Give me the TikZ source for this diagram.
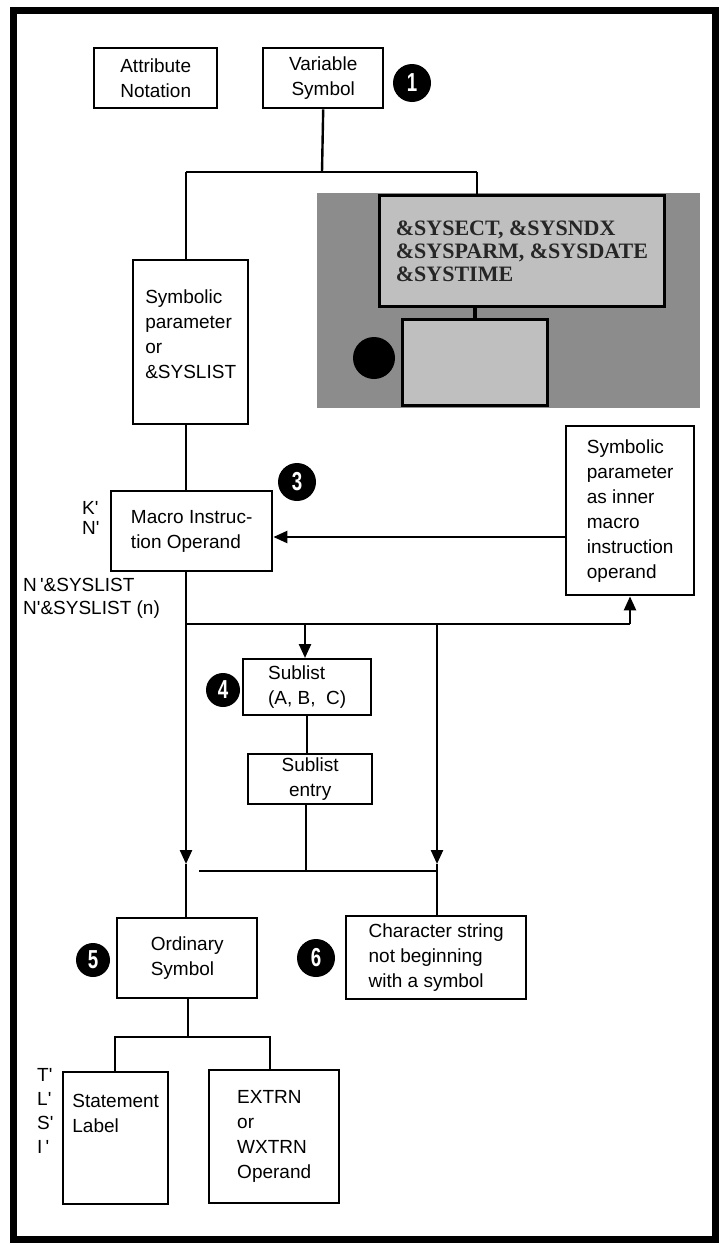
\documentclass[tikz,border=0pt]{standalone}
\usepackage{fontspec}
\setmainfont{Liberation Sans}
\newfontfamily\serifbold{Liberation Serif}
\usetikzlibrary{arrows.meta}
\newcommand{\myq}{\textquotesingle}
\newcommand{\bodyfont}{\fontsize{19}{25}\selectfont}
\newcommand{\numfont}{\fontsize{26}{26}\selectfont\bfseries}
\newcommand{\cn}[1]{\scalebox{0.72}[1]{#1}}
\begin{document}
\begin{tikzpicture}[x=1pt,y=-1pt,
  box/.style={draw, line width=2.4pt, anchor=north west, inner sep=0pt, align=center, font=\bodyfont},
  lbox/.style={box, align=left},
  ln/.style={line width=2.4pt},
  arr/.style={ln, -{Triangle[length=14pt,width=12pt]}},
  num/.style={circle, fill=black, text=white, minimum size=38pt, inner sep=0pt, font=\numfont},
  lab/.style={anchor=west, align=left, inner sep=0pt},
  gbox/.style={draw=black, line width=3pt, fill=black!25, anchor=north west, inner sep=0pt}]
\useasboundingbox (0,0) rectangle (727,1245);
\fill[white] (0,0) rectangle (727,1245);
\draw[line width=7pt] (13,10) rectangle (715,1239);

% top
\node[box, minimum width=123pt, minimum height=60pt] (attr) at (93,47) {Attribute\\Notation};
\node[box, minimum width=120pt, minimum height=60pt] (var) at (262,47) {Variable\\Symbol};
\node[num] (n1) at (412,83) {\cn{1}};

% obscured area
\fill[black!45] (317,193) rectangle (700,408);
\node[gbox, minimum width=285pt, minimum height=111pt, align=left, text=black!85,
      font=\serifbold\bfseries\fontsize{22}{23}\selectfont] (g1) at (378,194)
      {\&SYSECT, \&SYSNDX\\\&SYSPARM, \&SYSDATE\\\&SYSTIME};
\node[gbox, minimum width=145pt, minimum height=86pt] (g2) at (401,318) {};
\node[num, minimum size=42pt] (n2) at (374,358) {};
\draw[line width=4pt] (g1.south -| g2.north) -- (g2.north);

\node[lbox, minimum width=115pt, minimum height=164pt] (symp) at (132,259)
  {Symbolic\\parameter\\or\\\&SYSLIST\\[-8pt]~};

\node[lbox, minimum width=161pt, minimum height=80pt] (mac) at (110,490)
  {Macro Instruc-\\tion Operand};
\node[num] (n3) at (297,482) {\cn{3}};
\node[lab, font=\fontsize{19}{20}\selectfont] (kn) at (82,518) {K\myq\\N\myq};
\node[lab, font=\fontsize{19}{23}\selectfont] (nsys) at (23,598)
  {N\,\myq\&SYSLIST\\N\myq\&SYSLIST (n)};

\node[lbox, minimum width=128pt, minimum height=169pt] (inner) at (565,425)
  {Symbolic\\parameter\\as inner\\macro\\instruction\\operand};

\node[lbox, minimum width=128pt, minimum height=56pt] (sub) at (242,658)
  {Sublist\\(A, B,\ \ C)};
\node[num, minimum size=34pt] (n4) at (223,690) {\cn{4}};
\node[box, minimum width=124pt, minimum height=50pt] (sube) at (247,753)
  {Sublist\\entry};

\node[lbox, minimum width=140pt, minimum height=80pt] (ord) at (116,917)
  {Ordinary\\Symbol};
\node[num, minimum size=34pt] (n5) at (93,960) {\cn{5}};
\node[lbox, minimum width=180pt, minimum height=83pt] (chr) at (345,915)
  {Character string\\not beginning\\with a symbol};
\node[num] (n6) at (316,958) {\cn{6}};

\node[lbox, minimum width=105pt, minimum height=132pt] (stl) at (62,1071)
  {Statement\\Label\\~\\~};
\node[lbox, minimum width=130pt, minimum height=133pt] (ext) at (208,1069)
  {EXTRN\\or\\WXTRN\\Operand};
\node[lab, font=\fontsize{19}{24}\selectfont] (tlsi) at (37,1111)
  {T\myq\\L\myq\\S\myq\\I\,\myq};

% connectors
\coordinate (j1) at (322,172);
\coordinate (jl) at (186,172);
\coordinate (jr) at (477,172);
\draw[ln] (var.south) -- (j1);
\draw[ln] (jl) -- (jr);
\draw[ln] (jl) -- (jl |- symp.north);
\draw[ln] (jr) -- (jr |- g1.north);
\draw[ln] (symp.south -| jl) -- (mac.north -| jl);

\coordinate (ai) at (565,537);
\draw[arr] (ai) -- (mac.east |- ai);

\coordinate (h1) at (186,624);
\coordinate (h2) at (630,624);
\draw[ln] (mac.south -| h1) -- (h1) -- (h2);
\draw[arr] (h2) -- (h2 |- inner.south);
\coordinate (hs) at (305,624);
\draw[arr] (hs) -- (hs |- sub.north);
\draw[ln] (sub.south) -- (sub.south |- sube.north);

\coordinate (hb) at (306,871);
\coordinate (hl) at (199,871);
\coordinate (hr) at (438,871);
\draw[ln] (sube.south -| hb) -- (hb);
\draw[ln] (hl) -- (hr);
\coordinate (tl) at (186,864);
\draw[arr] (h1) -- (tl);
\draw[ln] (tl) -- (tl |- ord.north);
\coordinate (hr0) at (437,624);
\coordinate (tr) at (437,864);
\draw[arr] (hr0) -- (tr);
\draw[ln] (tr) -- (tr |- chr.north);

\coordinate (ob) at (188,1037);
\coordinate (obl) at (115,1037);
\coordinate (obr) at (270,1037);
\draw[ln] (ord.south -| ob) -- (ob);
\draw[ln] (obl |- stl.north) -- (obl) -- (obr) -- (obr |- ext.north);
\end{tikzpicture}
\end{document}
